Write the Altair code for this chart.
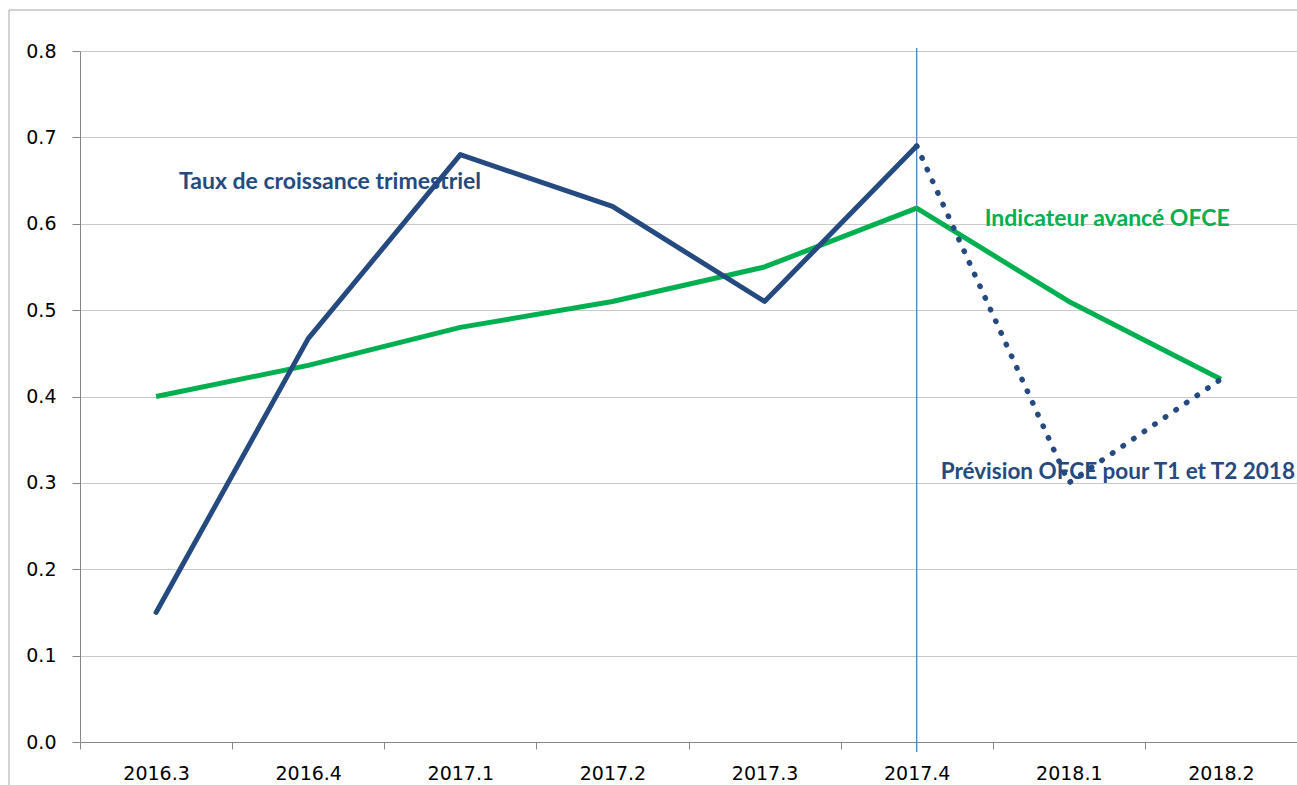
import altair as alt
import pandas as pd

QUARTERS = ["2016.3", "2016.4", "2017.1", "2017.2", "2017.3", "2017.4", "2018.1", "2018.2"]
GROWTH_Q = ["2016.3", "2016.4", "2017.1", "2017.2", "2017.3", "2017.4"]
GROWTH = [0.15, 0.467, 0.68, 0.62, 0.51, 0.69]
FORECAST_Q = ["2017.4", "2018.1", "2018.2"]
FORECAST = [0.69, 0.30, 0.42]
INDICATOR = [0.40, 0.436, 0.48, 0.51, 0.55, 0.618, 0.51, 0.42]
Y_TICKS = [0.0, 0.1, 0.2, 0.3, 0.4, 0.5, 0.6, 0.7, 0.8]
GROWTH_LABEL = ["Taux de croissance trimestriel"]
GROWTH_LABEL_Q = ["2016.3"]
GROWTH_LABEL_Y = [0.648]
FORECAST_LABEL = ["Prévision OFCE pour T1 et T2 2018"]
FORECAST_LABEL_Q = ["2017.4"]
FORECAST_LABEL_Y = [0.313]
GREEN_LABEL = ["Indicateur avancé OFCE"]
GREEN_LABEL_Q = ["2017.4"]
GREEN_LABEL_Y = [0.605]
MARKER_Q = ["2017.4"]

BLUE = "#254A7F"
GREEN = "#00B050"
FONT = "DejaVu Sans"

growth_df = pd.DataFrame({"q": GROWTH_Q, "v": GROWTH})
forecast_df = pd.DataFrame({"q": FORECAST_Q, "v": FORECAST})
indicator_df = pd.DataFrame({"q": QUARTERS, "v": INDICATOR})
growth_label_df = pd.DataFrame({"q": GROWTH_LABEL_Q, "v": GROWTH_LABEL_Y, "t": GROWTH_LABEL})
forecast_label_df = pd.DataFrame({"q": FORECAST_LABEL_Q, "v": FORECAST_LABEL_Y, "t": FORECAST_LABEL})
green_label_df = pd.DataFrame({"q": GREEN_LABEL_Q, "v": GREEN_LABEL_Y, "t": GREEN_LABEL})
marker_df = pd.DataFrame({"q": MARKER_Q})

xscale = alt.Scale(type="band", domain=QUARTERS, paddingInner=0, paddingOuter=0)
yscale = alt.Scale(domain=[0, 0.8], nice=False, zero=True)

x_axis = alt.Axis(
    tickBand="extent", labelAngle=0, labelAlign="center", labelFont=FONT, labelFontSize=19,
    labelColor="#000000", labelPadding=15, tickSize=7, tickColor="#868686",
    domainColor="#868686", grid=False,
)
x_enc = alt.X("q:N", scale=xscale, sort=QUARTERS, title=None, axis=x_axis)
y_enc = alt.Y(
    "v:Q", scale=yscale, title=None,
    axis=alt.Axis(
        values=Y_TICKS, format=".1f", labelFont=FONT, labelFontSize=19,
        labelColor="#000000", labelPadding=16, tickSize=8, tickColor="#868686",
        domainColor="#868686", gridColor="#C8C8C8", grid=True,
    ),
)

frame = alt.Chart(pd.DataFrame({"a": [0]})).mark_rect(
    fill="transparent", stroke="#A6A6A6", strokeWidth=1
).encode(
    x=alt.value(-71), y=alt.value(-41), x2=alt.value(1300), y2=alt.value(800)
)

indicator = alt.Chart(indicator_df).mark_line(
    color=GREEN, strokeWidth=5, strokeJoin="round"
).encode(x=x_enc, y=y_enc)

growth = alt.Chart(growth_df).mark_line(
    color=BLUE, strokeWidth=5, strokeJoin="round", strokeCap="round"
).encode(x=x_enc, y=y_enc)

forecast = alt.Chart(forecast_df).mark_line(
    color=BLUE, strokeWidth=5.5, strokeDash=[0.5, 12.3], strokeCap="round"
).encode(x=x_enc, y=y_enc)

marker = alt.Chart(marker_df).mark_rule(color="#4F81BD", strokeWidth=1.3).encode(
    x=x_enc,
    y=alt.value(-3), y2=alt.value(701),
)

growth_label = alt.Chart(growth_label_df).mark_text(
    align="left", baseline="middle", font="Lato", fontWeight="bold", fontSize=23,
    color=BLUE, dx=23,
).encode(x=x_enc, y=y_enc, text="t:N")

forecast_label = alt.Chart(forecast_label_df).mark_text(
    align="left", baseline="middle", font="Lato", fontWeight="bold", fontSize=22.5,
    color=BLUE, dx=24,
).encode(x=x_enc, y=y_enc, text="t:N")

green_label = alt.Chart(green_label_df).mark_text(
    align="left", baseline="middle", font="Lato", fontWeight="bold", fontSize=23,
    color=GREEN, dx=68,
).encode(x=x_enc, y=y_enc, text="t:N")

chart = alt.layer(
    frame, marker, indicator, growth, forecast, growth_label, forecast_label, green_label
).properties(
    width=1217, height=691,
    autosize=alt.AutoSizeParams(type="none"),
    padding={"left": 80, "top": 51, "right": 0, "bottom": 43},
    background="white",
).configure_view(stroke=None)

chart.save("out.html", embed_options={"renderer": "svg", "actions": False})
